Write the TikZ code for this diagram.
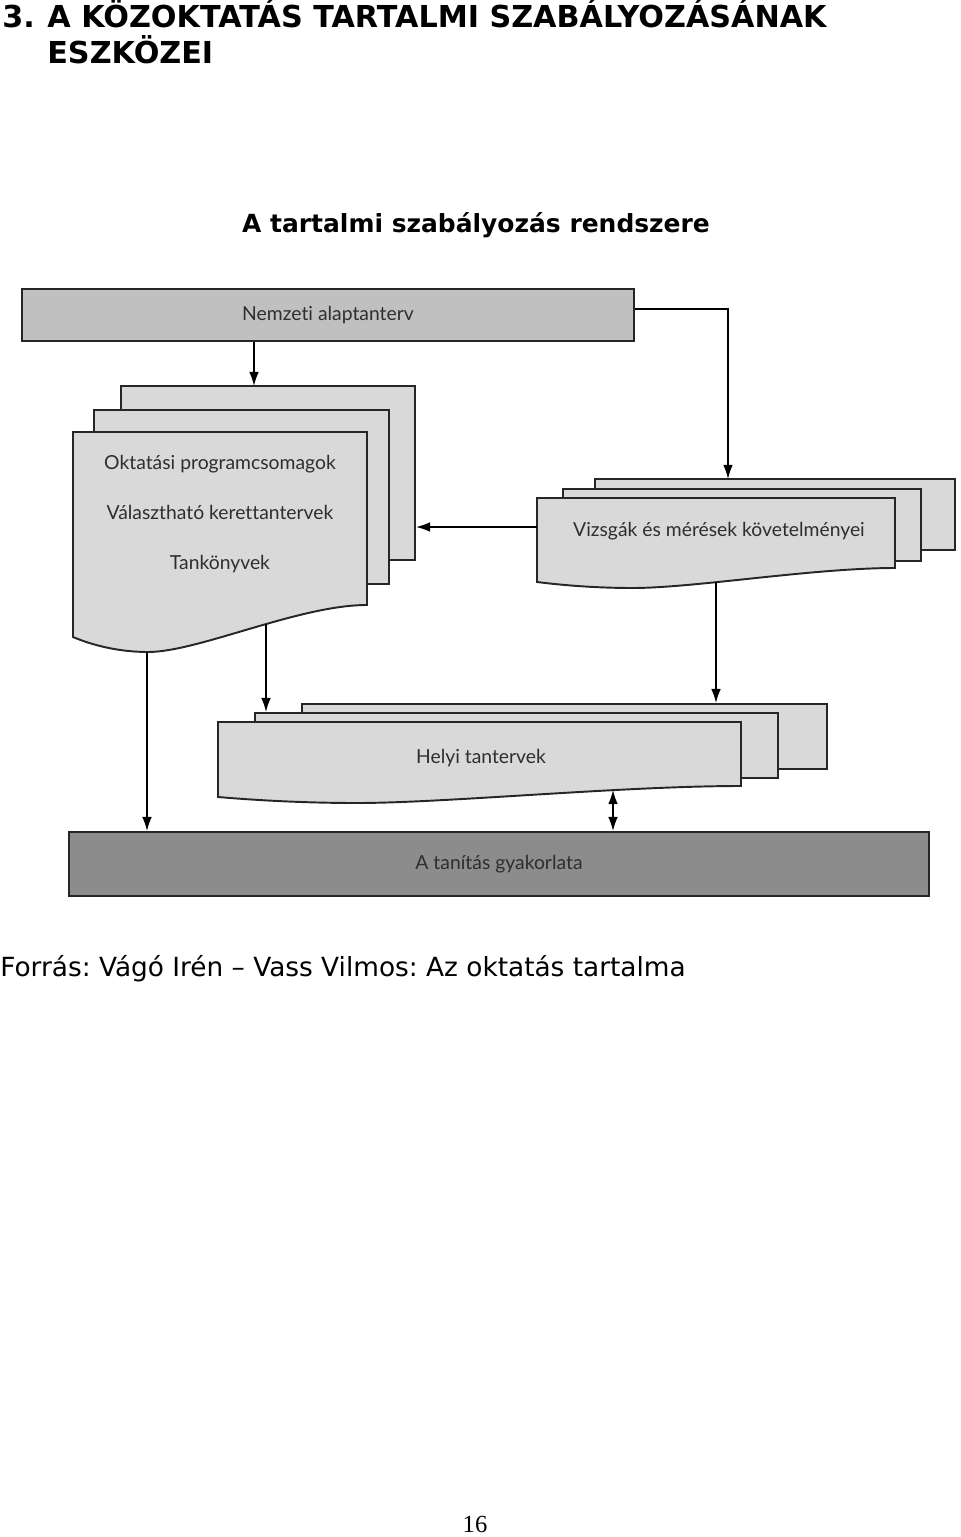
\documentclass[tikz,border=0pt]{standalone}
\usepackage{fontspec}
\setmainfont{Lato}[Ligatures=NoCommon]
\newfontfamily\headfont{DejaVu Sans}
\newfontfamily\pagefont{Liberation Serif}
\usepackage{tikz}
\usetikzlibrary{arrows.meta}
\definecolor{natgray}{HTML}{C0C0C0}
\definecolor{sheetgray}{HTML}{D9D9D9}
\definecolor{practgray}{HTML}{8C8C8C}
\definecolor{textgray}{HTML}{2E2E2E}
\frenchspacing
\begin{document}
\begin{tikzpicture}[x=0.02cm, y=-0.02cm,
box/.style = {draw=black!85, line width=1.1pt, inner sep=0pt},
sheet/.style = {box, fill=sheetgray},
txt/.style = {font=\fontsize{11}{13}\selectfont, text=textgray},
head/.style = {inner sep=0pt, font=\headfont\bfseries\fontsize{17.2}{20}\selectfont},
arr/.style = {line width=0.9pt, -{Latex[length=8pt, width=5.5pt]}},
dblarr/.style = {arr, {Latex[length=8pt, width=5.5pt]}-{Latex[length=8pt, width=5.5pt]}}]
\def\px{0.02cm}
\useasboundingbox (0,0) rectangle (960,1537);

\node[head, anchor=base west] (num) at (2,28) {3.};
\node[head, anchor=base west] (title1) at (47,28) {A KÖZOKTATÁS TARTALMI SZABÁLYOZÁSÁNAK};
\node[head, anchor=base west] (title2) at (47,64) {ESZKÖZEI};
\node[head, anchor=base, font=\headfont\bfseries\fontsize{14.2}{17}\selectfont] (subtitle) at (476,233) {A tartalmi szabályozás rendszere};

\node[box, fill=natgray, minimum width=612*\px, minimum height=52*\px, txt] (nat) at (328,315) {Nemzeti alaptanterv};

\node[sheet, minimum width=294*\px, minimum height=174*\px] (okt3) at (268,473) {};
\node[sheet, minimum width=295*\px, minimum height=174*\px] (okt2) at (241.5,497) {};
\draw[sheet] (73,432) -- (367,432) -- (367,605) .. controls (299,605) and (198,652) .. (148,652) .. controls (126,652) and (99,648) .. (73,637) -- cycle;
\node[txt, anchor=base] (okt) at (220,469) {Oktatási programcsomagok};
\node[txt, anchor=base] (valk) at (220,519) {Választható kerettantervek};
\node[txt, anchor=base] (tank) at (220,569) {Tankönyvek};

\node[sheet, minimum width=360*\px, minimum height=71*\px] (vizs3) at (775,514.5) {};
\node[sheet, minimum width=358*\px, minimum height=72*\px] (vizs2) at (742,525) {};
\draw[sheet] (537,498) -- (895,498) -- (895,568) .. controls (813,568) and (694,588) .. (633,588) .. controls (601,588) and (569,586) .. (537,582) -- cycle;
\node[txt, anchor=base] (vizs) at (719,536) {Vizsgák és mérések követelményei};

\node[sheet, minimum width=525*\px, minimum height=65*\px] (helyi3) at (564.5,736.5) {};
\node[sheet, minimum width=523*\px, minimum height=65*\px] (helyi2) at (516.5,745.5) {};
\draw[sheet] (218,722) -- (741,722) -- (741,786) .. controls (621,786) and (446,803) .. (357,803) .. controls (312,803) and (265,801) .. (218,797) -- cycle;
\node[txt, anchor=base] (helyi) at (481,763) {Helyi tantervek};

\node[box, fill=practgray, minimum width=860*\px, minimum height=64*\px, txt] (gyak) at (499,864) {A tanítás gyakorlata};

\coordinate (a1) at (254,386);
\coordinate (b1) at (728,479);
\coordinate (c1) at (537,527);
\coordinate (d1) at (716,582);
\coordinate (e1) at (266,624);
\coordinate (f1) at (147,652);
\coordinate (g1) at (613,790);
\draw[arr] (nat.south -| a1) -- (a1);
\draw[arr] ([yshift=6*\px]nat.east) -| (b1);
\draw[arr] (c1) -- (c1 -| okt3.east);
\draw[arr] (d1) -- (d1 |- helyi3.north);
\draw[arr] (e1) -- (e1 |- helyi2.north);
\draw[arr] (f1) -- (f1 |- gyak.north);
\draw[dblarr] (g1) -- (g1 |- gyak.north);

\node[anchor=base west, inner sep=0pt, font=\headfont\fontsize{15}{17}\selectfont] (source) at (0,976) {Forrás: Vágó Irén – Vass Vilmos: Az oktatás tartalma};
\node[anchor=base, inner sep=0pt, font=\pagefont\fontsize{14}{16}\selectfont] (pagenum) at (475,1532) {16};
\end{tikzpicture}
\end{document}
